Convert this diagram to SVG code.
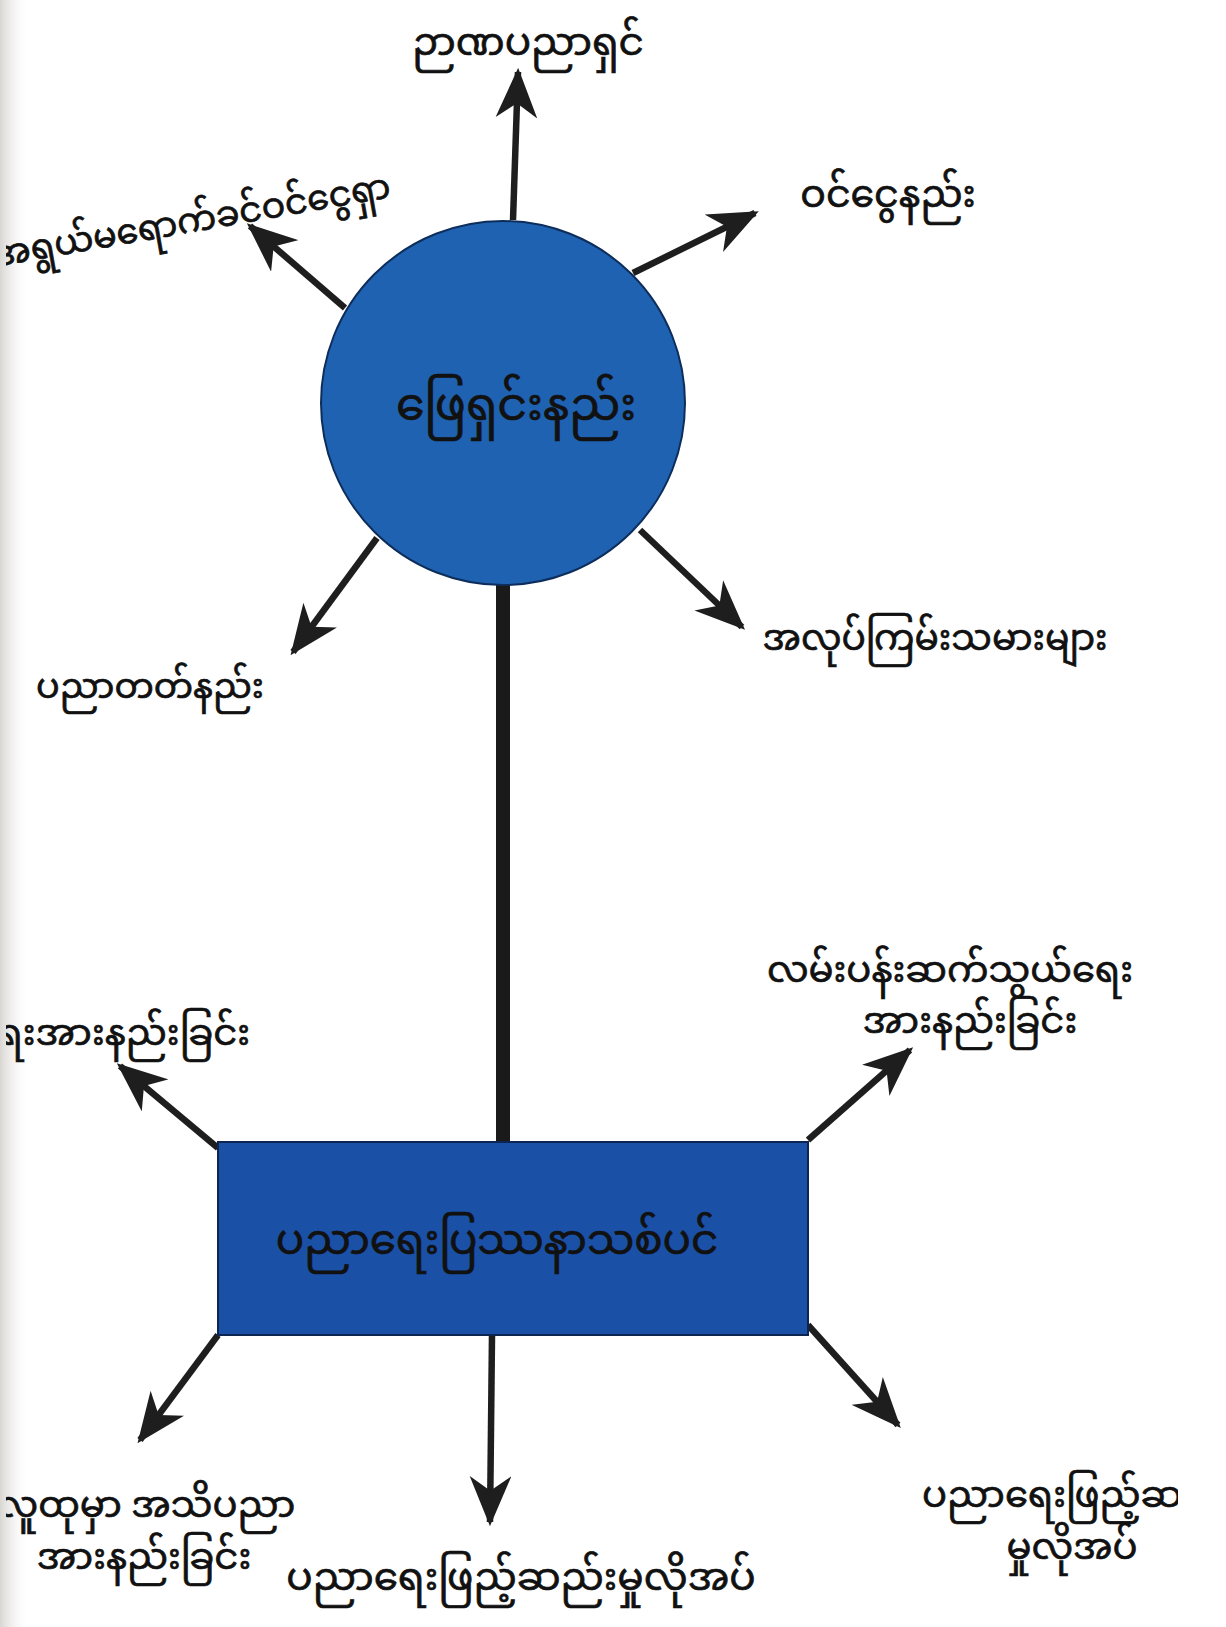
<svg xmlns="http://www.w3.org/2000/svg" width="1226" height="1627" viewBox="0 0 1226 1627">
<defs>
<style>
.t{font-family:"Noto Sans Myanmar","Padauk","Myanmar Text","Noto Sans","DejaVu Sans",sans-serif;font-size:37px;fill:#111;stroke:#111;stroke-width:0.7}
.a{stroke:#1e1e1e;stroke-width:6.5;fill:none;marker-end:url(#ah)}
</style>
<marker id="ah" viewBox="0 0 12 10" refX="11" refY="5" markerWidth="50" markerHeight="42" markerUnits="userSpaceOnUse" orient="auto">
<path d="M0,0 L12,5 L0,10 L3.5,5 Z" fill="#1e1e1e"/>
</marker>
<linearGradient id="edge" x1="0" x2="1" y1="0" y2="0">
<stop offset="0" stop-color="#d9d6d2"/>
<stop offset="1" stop-color="#ffffff" stop-opacity="0"/>
</linearGradient>
<clipPath id="page"><rect x="6" y="0" width="1172" height="1627"/></clipPath>
</defs>
<rect width="1226" height="1627" fill="#ffffff"/>
<rect x="0" y="0" width="30" height="1627" fill="url(#edge)"/>
<g id="connectors">
<line x1="503" y1="585" x2="503" y2="1145" stroke="#1a1a1a" stroke-width="14"/>
<line class="a" x1="513" y1="220" x2="518" y2="72"/>
<line class="a" x1="345" y1="308" x2="250" y2="226"/>
<line class="a" x1="633" y1="273" x2="755" y2="213"/>
<line class="a" x1="377" y1="538" x2="293" y2="652"/>
<line class="a" x1="640" y1="530" x2="742" y2="627"/>
<line class="a" x1="218" y1="1148" x2="120" y2="1066"/>
<line class="a" x1="808" y1="1140" x2="910" y2="1050"/>
<line class="a" x1="218" y1="1335" x2="140" y2="1440"/>
<line class="a" x1="492" y1="1335" x2="490" y2="1522"/>
<line class="a" x1="808" y1="1325" x2="898" y2="1425"/>
</g>
<g id="node-circle">
<circle cx="503" cy="403" r="182" fill="#1f62b2" stroke="#0d2d5a" stroke-width="2"/>
<text class="t" x="516" y="420" text-anchor="middle" style="font-size:46px">ဖြေရှင်းနည်း</text>
</g>
<g id="node-rect">
<rect x="218" y="1142" width="590" height="193" fill="#1a50a6" stroke="#0d2550" stroke-width="2"/>
<text class="t" x="497" y="1254" text-anchor="middle" style="font-size:42px">ပညာရေးပြဿနာသစ်ပင်</text>
</g>
<g id="labels" clip-path="url(#page)">
<text class="t" x="528" y="55" text-anchor="middle" style="font-size:39px">ဉာဏပညာရှင်</text>
<text class="t" x="192" y="232" text-anchor="middle" transform="rotate(-10 192 222)" style="font-size:35px">အရွယ်မရောက်ခင်ဝင်ငွေရှာ</text>
<text class="t" x="888" y="207" text-anchor="middle" style="font-size:38px">ဝင်ငွေနည်း</text>
<text class="t" x="935" y="650" text-anchor="middle" style="font-size:36px">အလုပ်ကြမ်းသမားများ</text>
<text class="t" x="150" y="698" text-anchor="middle" style="font-size:35px">ပညာတတ်နည်း</text>
<text class="t" x="950" y="982" text-anchor="middle">လမ်းပန်းဆက်သွယ်ရေး</text>
<text class="t" x="970" y="1033" text-anchor="middle">အားနည်းခြင်း</text>
<text class="t" x="250" y="1045" text-anchor="end">စီးပွားရေးအားနည်းခြင်း</text>
<text class="t" x="146" y="1517" text-anchor="middle">လူထုမှာ အသိပညာ</text>
<text class="t" x="144" y="1569" text-anchor="middle">အားနည်းခြင်း</text>
<text class="t" x="521" y="1590" text-anchor="middle" style="font-size:39px">ပညာရေးဖြည့်ဆည်းမှုလိုအပ်</text>
<text class="t" x="922" y="1507">ပညာရေးဖြည့်ဆည်း</text>
<text class="t" x="1072" y="1559" text-anchor="middle">မှုလိုအပ်</text>
</g>
</svg>
